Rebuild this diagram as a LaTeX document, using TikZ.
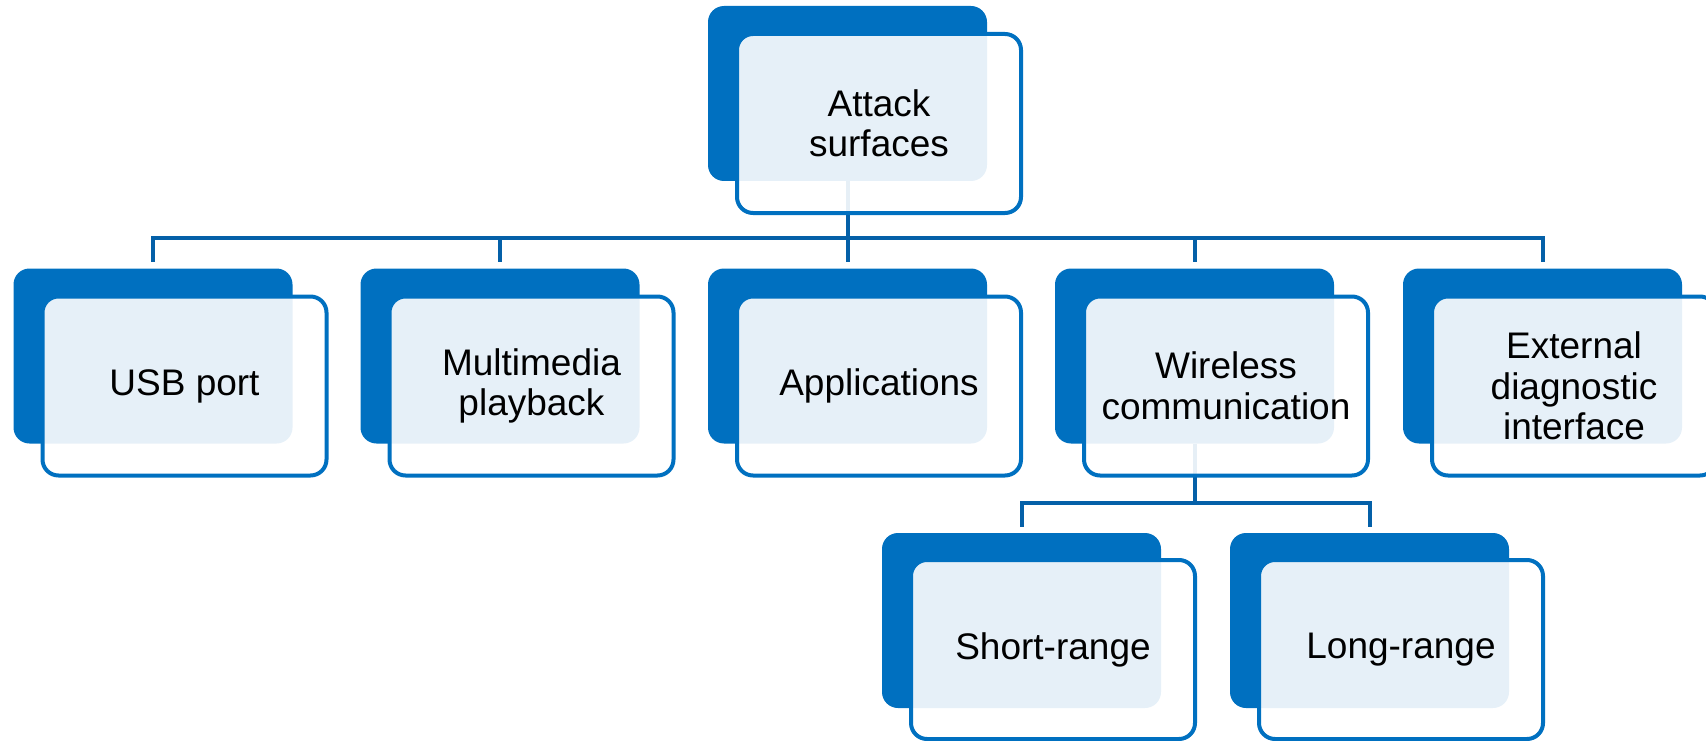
\documentclass[tikz,border=0pt]{standalone}
\usepackage{fontspec}
\setmainfont{Liberation Sans}
\definecolor{dblue}{RGB}{0,112,192}
\definecolor{cblue}{RGB}{4,96,168}
\tikzset{
 back/.style={fill=dblue, draw=none, rounded corners=16pt, minimum width=279pt, minimum height=175pt, inner sep=0pt},
 front/.style={fill=white, fill opacity=0.9, text opacity=1, draw=dblue, line width=4pt, rounded corners=16pt, minimum width=284pt, minimum height=179pt, align=center, inner sep=0pt, font=\fontsize{37}{40.5}\selectfont},
 conn/.style={draw=cblue, line width=4pt}
}
\begin{document}
\begin{tikzpicture}[x=1pt,y=-1pt]
\useasboundingbox (0,0) rectangle (1706,741);
% back cards
\node[back] (root-b) at (847.5,93.5) {};
\node[back] (usb-b) at (153,356) {};
\node[back] (mm-b) at (500,356) {};
\node[back] (app-b) at (847.5,356) {};
\node[back] (wl-b) at (1194.5,356) {};
\node[back] (ext-b) at (1542.5,356) {};
\node[back] (sr-b) at (1021.5,620.5) {};
\node[back] (lr-b) at (1369.5,620.5) {};
% buses
\coordinate (bus1) at (0,238);
\coordinate (bus2) at (0,503);
% connectors
\foreach \c in {usb,mm,app,wl,ext}{
  \draw[conn] (root-b.south) -- (root-b.south |- bus1) -| ([yshift=6pt]\c-b.north);
}
\foreach \c in {sr,lr}{
  \draw[conn] (wl-b.south) -- (wl-b.south |- bus2) -| ([yshift=6pt]\c-b.north);
}
% front cards
\node[front] (root) at ([shift={(31.5pt,-30pt)}]root-b.center) {Attack\\surfaces};
\node[front] (usb) at ([shift={(31.5pt,-30pt)}]usb-b.center) {USB port};
\node[front] (mm) at ([shift={(31.5pt,-30pt)}]mm-b.center) {Multimedia\\playback};
\node[front] (app) at ([shift={(31.5pt,-30pt)}]app-b.center) {Applications};
\node[front] (wl) at ([shift={(31.5pt,-30pt)}]wl-b.center) {Wireless\\communication};
\node[front] (ext) at ([shift={(31.5pt,-30pt)}]ext-b.center) {External\\diagnostic\\interface};
\node[front] (sr) at ([shift={(31.5pt,-29pt)}]sr-b.center) {Short-range};
\node[front] (lr) at ([shift={(31.5pt,-29pt)}]lr-b.center) {Long-range};
\end{tikzpicture}
\end{document}
